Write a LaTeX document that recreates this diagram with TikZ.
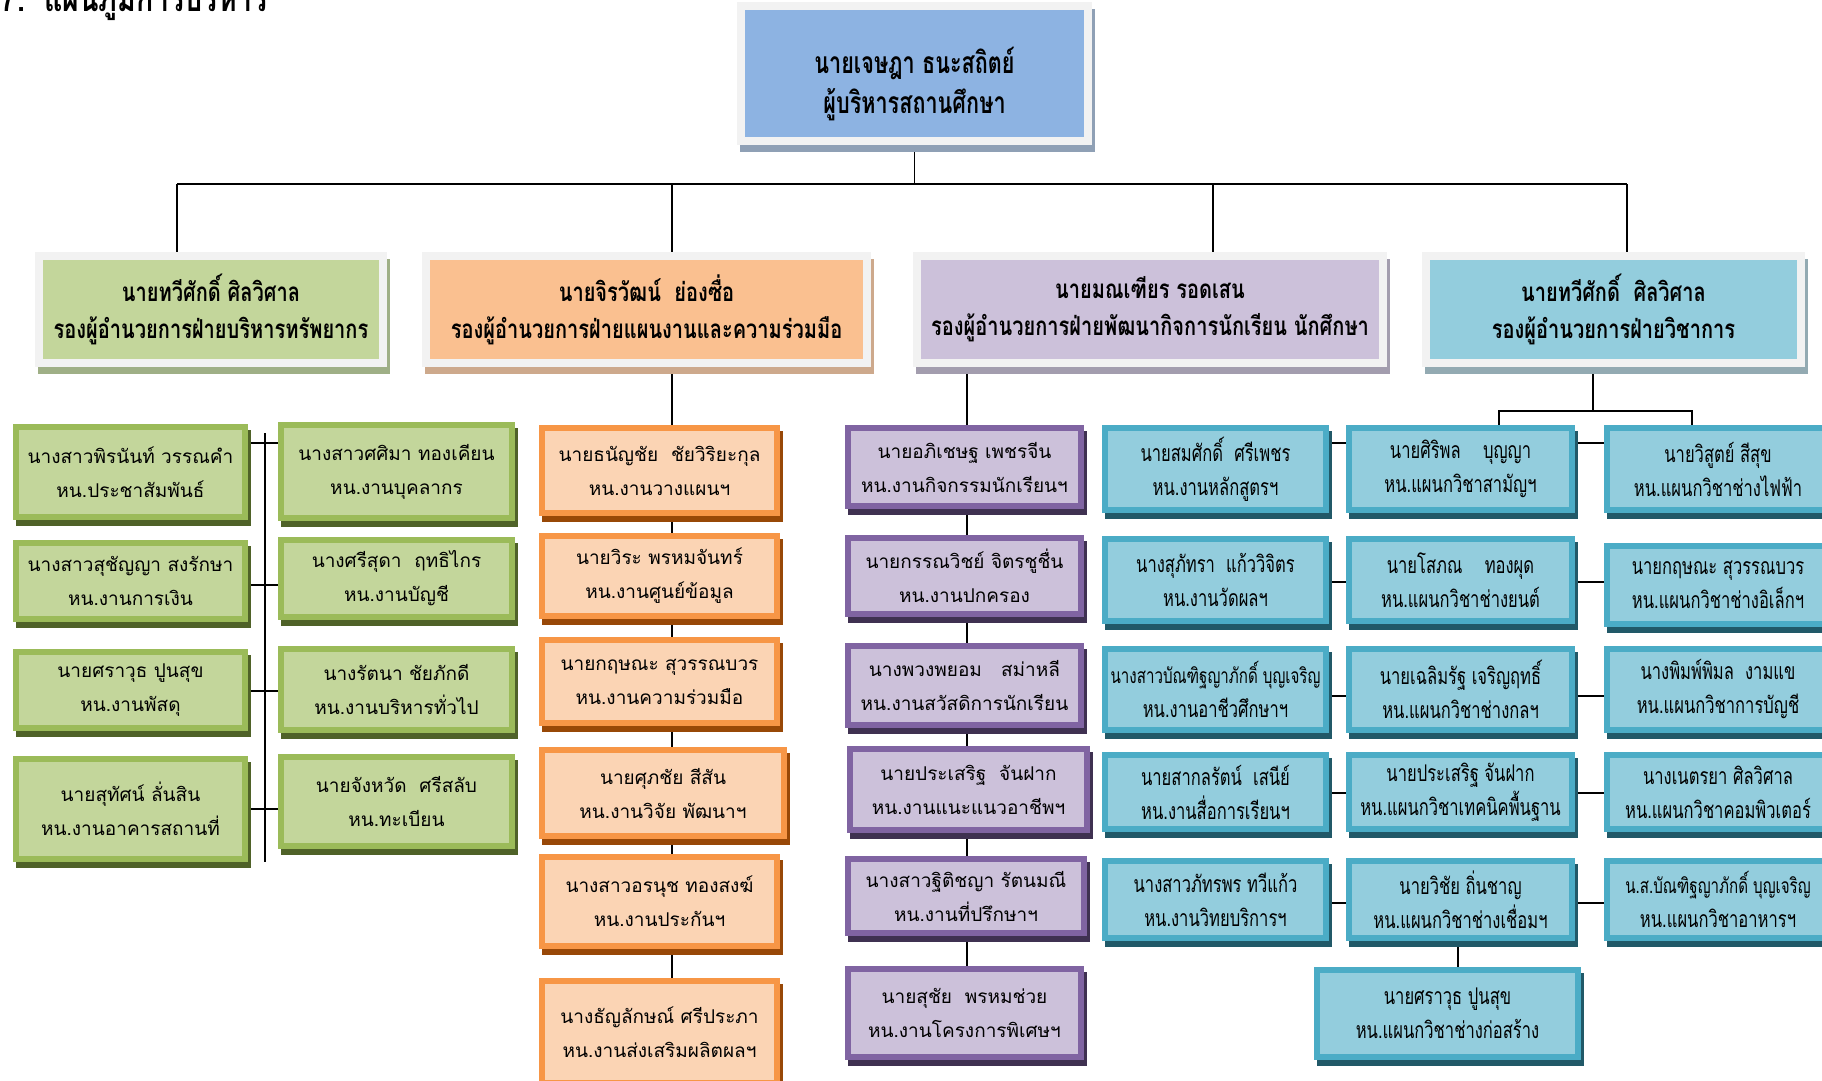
\documentclass[tikz,border=0pt]{standalone}
\usepackage{fontspec}
\newfontfamily\thai[Script=Thai]{Loma}
\newfontfamily\thaic[Script=Thai,FakeStretch=0.72]{Loma}
\newfontfamily\thaib[Script=Thai,FakeStretch=0.77]{Loma}
\usetikzlibrary{backgrounds,calc}
\definecolor{frameC}{HTML}{F2F2F2}
\definecolor{topF}{HTML}{8DB3E2}
\definecolor{topS}{HTML}{8FA0B5}
\definecolor{gF2}{HTML}{C3D69B}
\definecolor{gS2}{HTML}{9FAF86}
\definecolor{oF2}{HTML}{FAC090}
\definecolor{oS2}{HTML}{CDA98C}
\definecolor{pF2}{HTML}{CCC1DA}
\definecolor{pS2}{HTML}{A39DAE}
\definecolor{tF2}{HTML}{93CDDD}
\definecolor{tS2}{HTML}{93AAB2}
\definecolor{gB}{HTML}{9BBB59}
\definecolor{gF}{HTML}{C3D69B}
\definecolor{gS}{HTML}{4F6228}
\definecolor{oB}{HTML}{F79646}
\definecolor{oF}{HTML}{FBD4B4}
\definecolor{oS}{HTML}{984807}
\definecolor{pB}{HTML}{8064A2}
\definecolor{pF}{HTML}{CCC1DA}
\definecolor{pS}{HTML}{3F3151}
\definecolor{tB}{HTML}{4BACC6}
\definecolor{tF}{HTML}{93CDDD}
\definecolor{tS}{HTML}{215968}
\tikzset{
  conn/.style={line width=1.8pt, draw=black},
  lshd/.style={preaction={draw=#1, fill=#1, transform canvas={shift={(2.5pt,-5.5pt)}}}},
  fshd/.style={preaction={draw=#1, fill=#1, transform canvas={shift={(3pt,-7pt)}}}},
  lowbox/.style={draw, line width=6pt, align=center, inner sep=0pt, outer sep=0pt, text=black},
  lowtext/.style={font=\thai\fontsize{19}{34}\selectfont},
  condtext/.style={font=\thaic\fontsize{23}{34}\selectfont},
  gbox/.style={lowbox, lowtext, draw=gB, fill=gF, lshd=gS},
  obox/.style={lowbox, lowtext, draw=oB, fill=oF, lshd=oS},
  pbox/.style={lowbox, lowtext, draw=pB, fill=pF, lshd=pS},
  tbox/.style={lowbox, condtext, draw=tB, fill=tF, lshd=tS},
  framebox/.style={draw=frameC, line width=8pt, align=center, inner sep=0pt, outer sep=0pt, text=black,
     font=\thaib\bfseries\fontsize{26}{37}\selectfont},
  topbox/.style={framebox, fill=topF, fshd=topS},
  toptext/.style={align=center, inner sep=0pt, text=black, font=\thaic\bfseries\fontsize{30}{40}\selectfont},
  gtwo/.style={framebox, fill=gF2, fshd=gS2},
  otwo/.style={framebox, fill=oF2, fshd=oS2},
  ptwo/.style={framebox, fill=pF2, fshd=pS2},
  ttwo/.style={framebox, fill=tF2, fshd=tS2},
  titletext/.style={font=\thaib\bfseries\fontsize{37}{40}\selectfont, anchor=base west, inner sep=0pt},
}
% box: name, style, x1, y1, x2, y2, line1, line2 (outer extents, no shadow)
\newcommand\lbx[8]{\node[#2, minimum width={#5-#3-6}, minimum height={#6-#4-6}] (#1) at ({(#3+#5)/2},{(#4+#6)/2}) {#7\\#8};}
\newcommand\fbx[8]{\node[#2, minimum width={#5-#3-8}, minimum height={#6-#4-8}] (#1) at ({(#3+#5)/2},{(#4+#6)/2}) {#7\\#8};}
\begin{document}
\begin{tikzpicture}[x=1pt,y=-1pt]
\useasboundingbox (0,0) rectangle (1822,1080);
\node[titletext] (title) at (1,11) {7.~~แผนภูมิการบริหาร};
% top
\node[topbox, minimum width=347, minimum height=135] (top) at (914.5,73.5) {};
\node[toptext] (toptxt) at ($(top.center)+(0,11)$) {นายเจษฎา ธนะสถิตย์\\ผู้บริหารสถานศึกษา};
% level 2
\fbx{g2}{gtwo}{35}{252}{387}{367}{นายทวีศักดิ์ ศิลวิศาล}{รองผู้อำนวยการฝ่ายบริหารทรัพยากร}
\fbx{o2}{otwo}{422}{252}{871}{367}{นายจิรวัฒน์~~ย่องซื่อ}{รองผู้อำนวยการฝ่ายแผนงานและความร่วมมือ}
\fbx{p2}{ptwo}{913}{252}{1387}{367}{นายมณเฑียร รอดเสน}{รองผู้อำนวยการฝ่ายพัฒนากิจการนักเรียน นักศึกษา}
\fbx{t2}{ttwo}{1422}{252}{1805}{367}{นายทวีศักดิ์~~ศิลวิศาล}{รองผู้อำนวยการฝ่ายวิชาการ}
% green columns
\lbx{L1}{gbox}{13}{424}{248}{520}{นางสาวพิรนันท์ วรรณคำ}{หน.ประชาสัมพันธ์}
\lbx{L2}{gbox}{13}{540}{248}{622}{นางสาวสุชัญญา สงรักษา}{หน.งานการเงิน}
\lbx{L3}{gbox}{13}{649}{248}{731}{นายศราวุธ ปูนสุข}{หน.งานพัสดุ}
\lbx{L4}{gbox}{13}{756}{248}{862}{นายสุทัศน์ ลั่นสิน}{หน.งานอาคารสถานที่}
\lbx{R1}{gbox}{278}{422}{515}{521}{นางสาวศศิมา ทองเคียน}{หน.งานบุคลากร}
\lbx{R2}{gbox}{278}{537}{515}{620}{นางศรีสุดา~~ฤทธิไกร}{หน.งานบัญชี}
\lbx{R3}{gbox}{278}{646}{515}{733}{นางรัตนา ชัยภักดี}{หน.งานบริหารทั่วไป}
\lbx{R4}{gbox}{278}{754}{515}{849}{นายจังหวัด~~ศรีสลับ}{หน.ทะเบียน}
% orange column
\lbx{O1}{obox}{539}{425}{780}{516}{นายธนัญชัย~~ชัยวิริยะกุล}{หน.งานวางแผนฯ}
\lbx{O2}{obox}{539}{533}{780}{619}{นายวิระ พรหมจันทร์}{หน.งานศูนย์ข้อมูล}
\lbx{O3}{obox}{539}{637}{780}{726}{นายกฤษณะ สุวรรณบวร}{หน.งานความร่วมมือ}
\lbx{O4}{obox}{539}{747}{787}{839}{นายศุภชัย สีสัน}{หน.งานวิจัย พัฒนาฯ}
\lbx{O5}{obox}{539}{854}{780}{949}{นางสาวอรนุช ทองสงฆ์}{หน.งานประกันฯ}
\lbx{O6}{obox}{539}{978}{780}{1086}{นางธัญลักษณ์ ศรีประภา}{หน.งานส่งเสริมผลิตผลฯ}
% purple column
\lbx{P1}{pbox}{845}{425}{1084}{509}{นายอภิเชษฐ เพชรจีน}{หน.งานกิจกรรมนักเรียนฯ}
\lbx{P2}{pbox}{845}{535}{1084}{617}{นายกรรณวิชย์ จิตรชูชื่น}{หน.งานปกครอง}
\lbx{P3}{pbox}{845}{643}{1084}{728}{นางพวงพยอม~~~สม่าหลี}{หน.งานสวัสดิการนักเรียน}
\lbx{P4}{pbox}{847}{746}{1090}{833}{นายประเสริฐ~~จันฝาก}{หน.งานแนะแนวอาชีพฯ}
\lbx{P5}{pbox}{845}{856}{1087}{936}{นางสาวฐิติชญา รัตนมณี}{หน.งานที่ปรึกษาฯ}
\lbx{P6}{pbox}{845}{966}{1084}{1060}{นายสุชัย~~พรหมช่วย}{หน.งานโครงการพิเศษฯ}
% teal columns
\lbx{A1}{tbox}{1102}{425}{1329}{513}{นายสมศักดิ์~~ศรีเพชร}{หน.งานหลักสูตรฯ}
\lbx{A2}{tbox}{1102}{536}{1329}{624}{นางสุภัทรา~~แก้ววิจิตร}{หน.งานวัดผลฯ}
\lbx{A3}{tbox}{1102}{646}{1329}{733}{{\fontsize{21}{34}\selectfont นางสาวบัณฑิฐญาภักดิ์ บุญเจริญ}}{หน.งานอาชีวศึกษาฯ}
\lbx{A4}{tbox}{1102}{752}{1329}{832}{นายสากลรัตน์~~เสนีย์}{หน.งานสื่อการเรียนฯ}
\lbx{A5}{tbox}{1102}{858}{1329}{941}{นางสาวภัทรพร ทวีแก้ว}{หน.งานวิทยบริการฯ}
\lbx{B1}{tbox}{1346}{425}{1575}{513}{นายศิริพล~~~~บุญญา}{หน.แผนกวิชาสามัญฯ}
\lbx{B2}{tbox}{1346}{536}{1575}{624}{นายโสภณ~~~~ทองผุด}{หน.แผนกวิชาช่างยนต์}
\lbx{B3}{tbox}{1346}{646}{1575}{733}{นายเฉลิมรัฐ เจริญฤทธิ์}{หน.แผนกวิชาช่างกลฯ}
\lbx{B4}{tbox}{1346}{752}{1575}{832}{นายประเสริฐ จันฝาก}{หน.แผนกวิชาเทคนิคพื้นฐาน}
\lbx{B5}{tbox}{1346}{858}{1575}{941}{นายวิชัย ถิ่นชาญ}{หน.แผนกวิชาช่างเชื่อมฯ}
\lbx{B6}{tbox}{1314}{967}{1581}{1060}{นายศราวุธ ปูนสุข}{หน.แผนกวิชาช่างก่อสร้าง}
\lbx{C1}{tbox}{1604}{425}{1832}{513}{นายวิสูตย์ สีสุข}{หน.แผนกวิชาช่างไฟฟ้า}
\lbx{C2}{tbox}{1604}{543}{1832}{627}{นายกฤษณะ สุวรรณบวร}{หน.แผนกวิชาช่างอิเล็กฯ}
\lbx{C3}{tbox}{1604}{646}{1832}{733}{นางพิมพ์พิมล~~งามแข}{หน.แผนกวิชาการบัญชี}
\lbx{C4}{tbox}{1604}{752}{1832}{832}{นางเนตรยา ศิลวิศาล}{หน.แผนกวิชาคอมพิวเตอร์}
\lbx{C5}{tbox}{1604}{858}{1832}{941}{{\fontsize{21}{34}\selectfont น.ส.บัณฑิฐญาภักดิ์ บุญเจริญ}}{หน.แผนกวิชาอาหารฯ}
% connectors
\begin{pgfonlayer}{background}
\fill[white] (0,0) rectangle (1822,1080);
\coordinate (busL) at (177,184);
\coordinate (busR) at (1627,184);
\coordinate (dO) at (672,184);
\coordinate (dP) at (1213,184);
\draw[conn] (top.south) -- (top.south |- busL);
\draw[conn] (busL) -- (busR);
\draw[conn] (busL) -- (busL |- g2.north);
\draw[conn] (dO) -- (dO |- o2.north);
\draw[conn] (dP) -- (dP |- p2.north);
\draw[conn] (busR) -- (busR |- t2.north);
% green
\coordinate (gv1) at (265,433);
\coordinate (gv2) at (265,862);
\draw[conn] (gv1) -- (gv2);
\draw[conn] (L1.east |- 0,443) -- (R1.west |- 0,443);
\draw[conn] (L2.east |- 0,585) -- (R2.west |- 0,585);
\draw[conn] (L3.east |- 0,691) -- (R3.west |- 0,691);
\draw[conn] (L4.east |- 0,809) -- (R4.west |- 0,809);
% orange
\coordinate (oc) at (672,0);
\draw[conn] (o2.south -| oc) -- (O6.north -| oc);
% purple
\coordinate (pc) at (967,0);
\draw[conn] (p2.south -| pc) -- (P6.north -| pc);
% teal
\coordinate (tc) at (1593,411);
\coordinate (tbl) at (1499,411);
\coordinate (tbr) at (1692,411);
\draw[conn] (t2.south -| tc) -- (tc);
\draw[conn] (tbl |- B1.north) -- (tbl) -- (tbr) -- (tbr |- C1.north);
\draw[conn] (A1.east |- 0,443) -- (C1.west |- 0,443);
\draw[conn] (A2.east |- 0,582) -- (C2.west |- 0,582);
\draw[conn] (A3.east |- 0,696) -- (C3.west |- 0,696);
\draw[conn] (A4.east |- 0,793) -- (C4.west |- 0,793);
\draw[conn] (A5.east |- 0,903) -- (C5.west |- 0,903);
\coordinate (b56) at (1458,0);
\draw[conn] (B5.south -| b56) -- (B6.north -| b56);
\end{pgfonlayer}
\end{tikzpicture}
\end{document}
